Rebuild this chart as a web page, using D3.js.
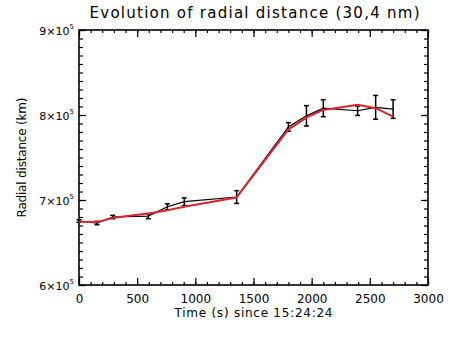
<!DOCTYPE html>
<html>
<head>
<meta charset="utf-8">
<script src="https://cdn.jsdelivr.net/npm/d3@7"></script>
<style>
  body { margin: 0; background: #fff; }
  text { font-family: "DejaVu Sans", sans-serif; fill: #000; }
  .axis path, .axis line { stroke: #000; }
</style>
</head>
<body>
<script>
// 画布大小
var width = 452;
var height = 340;

// 观测数据 (黑线 + 误差棒)
var times = [0, 155, 290, 595, 760, 905, 1355, 1800, 1955, 2100, 2395, 2550, 2700];
var distances = [675300, 672900, 680000, 681000, 692000, 698000, 703500, 786000, 799000, 808000, 805000, 809000, 807000];
var errors = [1500, 2000, 2000, 3000, 3500, 4500, 7500, 5000, 12000, 10000, 5500, 14000, 11000];

// 拟合曲线 (红线)
var fitTimes = [0, 155, 290, 595, 760, 905, 1355, 1800, 1955, 2100, 2395, 2550, 2700];
var fitDistances = [674500, 674000, 679000, 684000, 688000, 692000, 703000, 783000, 797000, 806000, 812000, 808000, 798000];

// 刻度
var xTicks = [0, 500, 1000, 1500, 2000, 2500, 3000];
var yTicks = [600000, 700000, 800000, 900000];

var svg = d3.select("body")
  .append("svg")
  .attr("width", width)
  .attr("height", height);

var padding = {left: 79, right: 24, top: 30, bottom: 55};
var plotW = width - padding.left - padding.right;
var plotH = height - padding.top - padding.bottom;

var xScale = d3.scaleLinear().domain([0, 3000]).range([0, plotW]);
var yScale = d3.scaleLinear().domain([600000, 900000]).range([plotH, 0]);

var g = svg.append("g")
  .attr("transform", "translate(" + padding.left + "," + padding.top + ")");

// 次刻度
var xMinor = d3.range(0, 3001, 100);
var yMinor = d3.range(600000, 900001, 10000);

function addAxis(axis, tr) {
  var a = g.append("g").attr("class", "axis").attr("transform", tr).call(axis);
  a.select(".domain").remove();
  a.selectAll("line").attr("stroke-width", 1.2);
  return a;
}

// 次刻度 (四边, 朝内)
addAxis(d3.axisBottom(xScale).tickValues(xMinor).tickSize(-3).tickFormat(""), "translate(0," + plotH + ")");
addAxis(d3.axisTop(xScale).tickValues(xMinor).tickSize(-3).tickFormat(""), "translate(0,0)");
addAxis(d3.axisLeft(yScale).tickValues(yMinor).tickSize(-4).tickFormat(""), "translate(0,0)");
addAxis(d3.axisRight(yScale).tickValues(yMinor).tickSize(-4).tickFormat(""), "translate(" + plotW + ",0)");

// 主刻度
var xAxis = addAxis(d3.axisBottom(xScale).tickValues(xTicks).tickSize(-7).tickPadding(9).tickFormat(d3.format("d")),
  "translate(0," + plotH + ")");
xAxis.selectAll("text").attr("font-size", 12).attr("font-family", "DejaVu Sans");
addAxis(d3.axisTop(xScale).tickValues(xTicks).tickSize(-7).tickFormat(""), "translate(0,0)");
var yAxis = addAxis(d3.axisLeft(yScale).tickValues(yTicks).tickSize(-7).tickPadding(5).tickFormat(""), "translate(0,0)");
addAxis(d3.axisRight(yScale).tickValues(yTicks).tickSize(-7).tickFormat(""), "translate(" + plotW + ",0)");

// y 轴标签 "n×10^5"
yAxis.selectAll(".tick text")
  .attr("font-size", 11)
  .attr("font-family", "DejaVu Sans")
  .attr("dy", "0.45em")
  .each(function(d) {
    var t = d3.select(this);
    t.append("tspan").text((d / 100000) + "×10");
    t.append("tspan").attr("font-size", 7).attr("dy", "-0.9em").text("5");
  });

// 边框
g.append("rect")
  .attr("width", plotW)
  .attr("height", plotH)
  .attr("fill", "none")
  .attr("stroke", "#000")
  .attr("stroke-width", 1.6);

// 黑线
var line = d3.line()
  .x(function(d, i) { return xScale(times[i]); })
  .y(function(d) { return yScale(d); });

g.append("path")
  .datum(distances)
  .attr("fill", "none")
  .attr("stroke", "#000")
  .attr("stroke-width", 1.2)
  .attr("d", line);

// 误差棒
var bars = g.selectAll(".err")
  .data(distances)
  .enter()
  .append("g")
  .attr("class", "err");

bars.append("line")
  .attr("x1", function(d, i) { return xScale(times[i]); })
  .attr("x2", function(d, i) { return xScale(times[i]); })
  .attr("y1", function(d, i) { return yScale(d - errors[i]); })
  .attr("y2", function(d, i) { return yScale(d + errors[i]); })
  .attr("stroke", "#000")
  .attr("stroke-width", 1.5);

bars.selectAll(".cap")
  .data(function(d, i) { return [d - errors[i], d + errors[i]].map(function(v) { return {v: v, t: times[i]}; }); })
  .enter()
  .append("line")
  .attr("x1", function(c) { return xScale(c.t) - 2.5; })
  .attr("x2", function(c) { return xScale(c.t) + 2.5; })
  .attr("y1", function(c) { return yScale(c.v); })
  .attr("y2", function(c) { return yScale(c.v); })
  .attr("stroke", "#000")
  .attr("stroke-width", 1.5);

// 红线
var fitLine = d3.line()
  .x(function(d, i) { return xScale(fitTimes[i]); })
  .y(function(d) { return yScale(d); });

g.append("path")
  .datum(fitDistances)
  .attr("fill", "none")
  .attr("stroke", "#d9262c")
  .attr("stroke-width", 2)
  .attr("stroke-linejoin", "round")
  .attr("d", fitLine);

// 标题
svg.append("text")
  .attr("x", padding.left + plotW / 2 + 1)
  .attr("y", 18)
  .attr("text-anchor", "middle")
  .attr("font-size", 15)
  .attr("textLength", 330)
  .attr("lengthAdjust", "spacing")
  .text("Evolution of radial distance (30,4 nm)");

// x 轴标题
svg.append("text")
  .attr("x", padding.left + plotW / 2)
  .attr("y", 317)
  .attr("text-anchor", "middle")
  .attr("font-size", 12)
  .attr("textLength", 158)
  .attr("lengthAdjust", "spacing")
  .text("Time (s) since 15:24:24");

// y 轴标题
svg.append("text")
  .attr("transform", "translate(26," + (padding.top + plotH / 2) + ") rotate(-90)")
  .attr("text-anchor", "middle")
  .attr("font-size", 12)
  .attr("textLength", 120)
  .attr("lengthAdjust", "spacing")
  .text("Radial distance (km)");
</script>
</body>
</html>
